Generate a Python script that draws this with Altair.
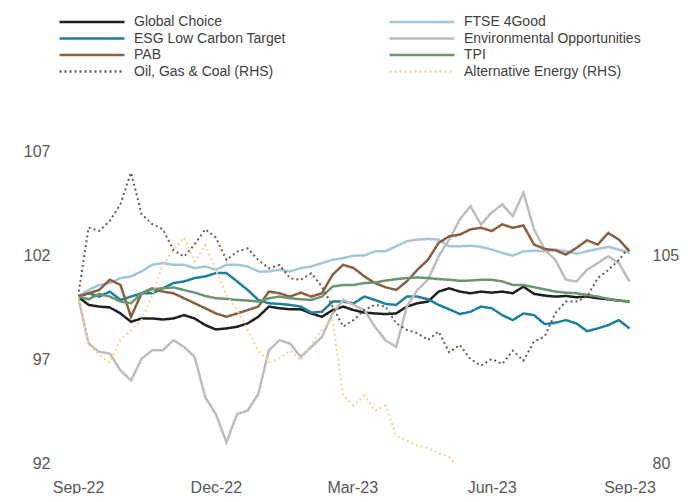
import altair as alt
import pandas as pd

# ---- data (weekly readings, index = 100 at start) ----
dates = pd.date_range("2022-09-30", periods=53, freq="7D")

names_lhs = ["Global Choice", "FTSE 4Good", "ESG Low Carbon Target",
             "Environmental Opportunities", "PAB", "TPI"]
names_rhs = ["Oil, Gas & Coal (RHS)", "Alternative Energy (RHS)"]

global_choice = [100.00, 99.60, 99.52, 99.48, 99.19, 98.79, 98.95, 98.95, 98.90, 98.95,
                 99.11, 98.95, 98.63, 98.42, 98.47, 98.55, 98.71, 99.03, 99.52, 99.44,
                 99.39, 99.39, 99.19, 99.03, 99.35, 99.52, 99.35, 99.23, 99.19, 99.16,
                 99.19, 99.52, 99.68, 99.76, 100.24, 100.40, 100.24, 100.16, 100.24, 100.19,
                 100.24, 100.16, 100.48, 100.13, 100.05, 100.00, 100.03, 99.97, 100.00, 99.92,
                 99.87, 99.81, 99.76]
ftse_4good = [100.00, 100.32, 100.56, 100.65, 100.89, 100.97, 101.21, 101.53, 101.61, 101.53,
              101.53, 101.37, 101.45, 101.29, 101.53, 101.53, 101.45, 101.21, 101.21, 101.29,
              101.21, 101.37, 101.45, 101.61, 101.77, 101.85, 101.97, 101.97, 102.18, 102.18,
              102.42, 102.66, 102.74, 102.77, 102.74, 102.42, 102.42, 102.45, 102.39, 102.26,
              102.10, 101.97, 102.18, 102.21, 102.18, 102.26, 102.18, 102.06, 102.18, 102.29,
              102.39, 102.26, 102.10]
esg_low_carbon = [100.00, 100.16, 100.00, 100.24, 99.84, 100.00, 100.16, 100.16, 100.40, 100.65,
                  100.73, 100.89, 100.97, 101.13, 101.13, 100.73, 100.32, 99.84, 99.68, 99.65,
                  99.60, 99.52, 99.23, 99.27, 99.76, 99.76, 99.68, 100.00, 99.84, 99.65,
                  99.60, 100.00, 100.00, 99.87, 99.60, 99.39, 99.16, 99.27, 99.52, 99.44,
                  99.11, 98.87, 99.19, 99.11, 98.68, 98.74, 98.87, 98.71, 98.34, 98.47,
                  98.63, 98.87, 98.47]
env_opportunities = [100.00, 97.74, 97.34, 97.26, 96.45, 95.97, 97.02, 97.42, 97.42, 97.90,
                     97.58, 97.10, 95.16, 94.35, 93.00, 94.35, 94.52, 95.32, 97.42, 97.90,
                     97.74, 97.10, 97.58, 98.06, 99.19, 99.84, 99.60, 99.35, 98.55, 97.90,
                     97.58, 99.52, 100.32, 100.81, 101.94, 102.74, 103.71, 104.35, 103.47, 104.03,
                     104.44, 103.87, 105.00, 103.23, 102.26, 101.77, 100.81, 100.73, 101.29, 101.61,
                     101.94, 101.61, 100.73]
pab = [100.00, 100.16, 100.32, 100.81, 100.56, 99.03, 100.16, 100.40, 100.24, 100.16,
       99.92, 99.68, 99.44, 99.19, 99.03, 99.19, 99.35, 99.52, 100.24, 100.16,
       100.00, 100.19, 100.00, 100.16, 101.05, 101.53, 101.37, 100.97, 100.65, 100.45,
       100.32, 100.73, 101.29, 101.77, 102.58, 102.90, 102.98, 103.23, 103.31, 103.15,
       103.47, 103.31, 103.42, 102.50, 102.29, 102.23, 102.02, 102.34, 102.71, 102.50,
       103.06, 102.74, 102.18]
tpi = [100.00, 99.87, 100.13, 100.00, 99.76, 99.68, 100.16, 100.35, 100.40, 100.44,
       100.32, 100.19, 100.03, 99.92, 99.89, 99.84, 99.81, 99.76, 99.92, 100.00,
       99.92, 99.87, 99.84, 100.00, 100.48, 100.56, 100.56, 100.65, 100.68, 100.77,
       100.84, 100.89, 100.92, 100.89, 100.84, 100.81, 100.76, 100.77, 100.81, 100.81,
       100.73, 100.56, 100.56, 100.45, 100.35, 100.24, 100.19, 100.16, 100.08, 100.00,
       99.89, 99.81, 99.76]
oil_gas_coal = [100.0, 108.3, 107.9, 109.1, 111.1, 114.9, 109.9, 108.7, 108.1, 105.6,
                104.8, 106.3, 108.1, 107.1, 104.4, 105.4, 105.8, 104.4, 103.4, 103.8,
                102.2, 102.0, 102.8, 101.2, 98.8, 96.4, 97.2, 98.4, 99.0, 98.8,
                96.8, 96.0, 95.6, 94.8, 95.8, 93.3, 94.2, 92.5, 91.7, 92.5,
                91.9, 93.5, 92.3, 94.6, 95.2, 98.0, 99.4, 99.4, 100.0, 102.2,
                103.2, 104.4, 106.0]
alt_energy = [100.0, 94.2, 93.0, 92.1, 94.8, 96.0, 97.2, 100.2, 103.8, 105.6,
              107.1, 104.2, 106.2, 103.2, 100.2, 98.4, 96.0, 93.5, 92.1, 92.6,
              93.5, 92.3, 94.2, 96.0, 97.2, 88.1, 86.9, 88.1, 86.3, 86.9,
              83.3, 82.7, 82.1, 81.8, 81.2, 80.7, 79.2, 78.4, 77.6, 77.0,
              77.5, 76.8, 76.0, 76.5, 77.2, 76.6, 75.8, 76.3, 77.0, 77.6,
              77.1, 76.4, 75.9]

lhs_values = [global_choice, ftse_4good, esg_low_carbon, env_opportunities, pab, tpi]
rhs_values = [oil_gas_coal, alt_energy]

draw_order = names_lhs + names_rhs
# legend is laid out column by column: left column first, then right column
legend_order = ["Global Choice", "ESG Low Carbon Target", "PAB", "Oil, Gas & Coal (RHS)",
                "FTSE 4Good", "Environmental Opportunities", "TPI", "Alternative Energy (RHS)"]
legend_colors = ["#1f1f1f", "#1f7fa0", "#8b6040", "#6b5a4e",
                 "#a3c6d9", "#bdbdbd", "#6b9571", "#f3d29c"]
legend_dashes = [[1, 0], [1, 0], [1, 0], [2, 3],
                 [1, 0], [1, 0], [1, 0], [2, 3]]


def long_frame(names, values):
    rows = []
    for n, vals in zip(names, values):
        for d, v in zip(dates, vals):
            rows.append({"date": d, "series": n, "value": v, "order": draw_order.index(n)})
    return pd.DataFrame(rows)


lhs = long_frame(names_lhs, lhs_values)
rhs = long_frame(names_rhs, rhs_values)

FONT = "Liberation Sans"
LABEL_COLOR = "#595959"
AXIS_FS = 16

x_enc = alt.X(
    "date:T",
    title=None,
    scale=alt.Scale(domain=[alt.DateTime(year=2022, month=9, date=30),
                            alt.DateTime(year=2023, month=9, date=30)]),
    axis=alt.Axis(
        values=[alt.DateTime(year=2022, month=9, date=30),
                alt.DateTime(year=2022, month=12, date=30),
                alt.DateTime(year=2023, month=3, date=30),
                alt.DateTime(year=2023, month=6, date=30),
                alt.DateTime(year=2023, month=9, date=29)],
        format="%b-%y", labelFlush=False, labelPadding=16,
        labelFontSize=AXIS_FS, labelFont=FONT, labelColor=LABEL_COLOR,
        domain=False, ticks=False, grid=False,
    ),
)

color_enc = alt.Color(
    "series:N",
    scale=alt.Scale(domain=legend_order, range=legend_colors),
    legend=alt.Legend(
        title=None, orient="none", legendX=-20, legendY=-137,
        columns=2, columnPadding=102, rowPadding=0.5, clipHeight=16,
        symbolType="stroke", symbolSize=4225, symbolStrokeWidth=2.5,
        labelFont=FONT, labelFontSize=14, labelColor="#404040",
        labelLimit=300, labelOffset=8,
    ),
)
dash_enc = alt.StrokeDash("series:N", scale=alt.Scale(domain=legend_order, range=legend_dashes),
                          legend=alt.Legend(title=None))

left = alt.Chart(lhs).mark_line(strokeWidth=2.5, clip=True).encode(
    x=x_enc,
    y=alt.Y("value:Q", title=None,
            scale=alt.Scale(domain=[92, 107], nice=False, zero=False),
            axis=alt.Axis(values=[92, 97, 102, 107], labelFontSize=AXIS_FS, labelFont=FONT,
                          labelColor=LABEL_COLOR, labelPadding=28,
                          domain=False, ticks=False, grid=False)),
    color=color_enc,
    strokeDash=dash_enc,
    order=alt.Order("order:Q"),
    detail="series:N",
)

right = alt.Chart(rhs).mark_line(strokeWidth=2, strokeCap="butt", clip=True).encode(
    x=x_enc,
    y=alt.Y("value:Q", title=None,
            scale=alt.Scale(domain=[80, 117.5], nice=False, zero=False),
            axis=alt.Axis(orient="right", values=[80, 105], labelFontSize=AXIS_FS,
                          labelFont=FONT, labelColor=LABEL_COLOR, labelPadding=21,
                          domain=False, ticks=False, grid=False)),
    color=color_enc,
    strokeDash=dash_enc,
    detail="series:N",
)

chart = alt.layer(left, right).resolve_scale(y="independent").properties(
    width=553, height=312,
    padding={"left": 70, "top": 143, "right": 55, "bottom": 31},
    autosize=alt.AutoSizeParams(type="none"),
    background="white",
).configure_view(stroke=None)

chart.save("out.html", embed_options={"renderer": "svg", "actions": False})
